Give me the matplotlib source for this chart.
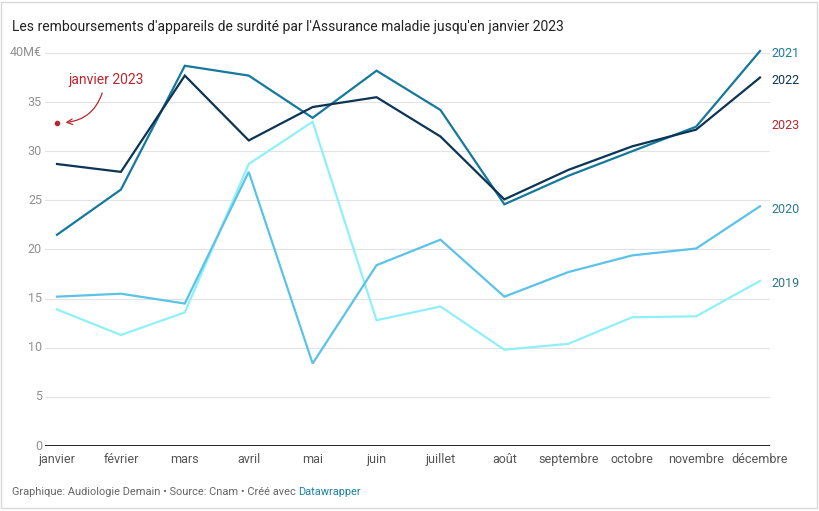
import matplotlib
matplotlib.use("Agg")
import matplotlib.pyplot as plt
from matplotlib.patches import Rectangle

plt.rcParams['font.family'] = ['Roboto', 'DejaVu Sans']

# Data (millions of euros)
months = ["janvier", "février", "mars", "avril", "mai", "juin", "juillet",
          "août", "septembre", "octobre", "novembre", "décembre"]
y2019 = [13.9, 11.3, 13.6, 28.7, 33.0, 12.8, 14.2, 9.8, 10.4, 13.1, 13.2, 16.8]
y2020 = [15.2, 15.5, 14.5, 27.9, 8.4, 18.4, 21.0, 15.2, 17.7, 19.4, 20.1, 24.4]
y2021 = [21.5, 26.1, 38.7, 37.7, 33.4, 38.2, 34.2, 24.6, 27.5, 30.0, 32.5, 40.2]
y2022 = [28.7, 27.9, 37.7, 31.1, 34.5, 35.5, 31.5, 25.1, 28.1, 30.5, 32.2, 37.5]
y2023 = [32.9]
yticks = [0, 5, 10, 15, 20, 25, 30, 35, 40]

W, H = 820, 511
fig = plt.figure(figsize=(W / 100, H / 100), dpi=100)
fig.patch.set_facecolor("white")

# axes placement in pixels
left_px, right_px = 45, 770
top_px, bottom_px = 48, 446
ax = fig.add_axes([left_px / W, 1 - bottom_px / H,
                   (right_px - left_px) / W, (bottom_px - top_px) / H])
step = (760 - 57) / 11
ax.set_xlim(-(57 - left_px) / step, 11 + (right_px - 760) / step)
ax.set_ylim(0, 40 + (53 - top_px) / 9.825)

for s in ax.spines.values():
    s.set_visible(False)
ax.set_xticks([])
ax.set_yticks([])

for t in yticks[1:]:
    ax.axhline(t, color="#e3e3e3", lw=0.8, zorder=0)
ax.axhline(0, color="#222222", lw=1.4, zorder=1)

x = list(range(len(months)))
series = [
    (y2019, "#8ff0f7"),
    (y2020, "#5bc2e8"),
    (y2021, "#15799c"),
    (y2022, "#0c3553"),
]
for vals, col in series:
    ax.plot(x, vals, color=col, lw=1.6, solid_joinstyle="miter", zorder=3)

ax.plot([0], y2023, "o", color="#b8282e", ms=3, zorder=4)

# line labels on the right
label_y = {"2021": 40.2, "2022": 37.5, "2023": 32.9, "2020": 24.4, "2019": 16.8}
label_col = {"2021": "#1c7a9c", "2022": "#0f3450", "2023": "#b8282e",
             "2020": "#2b7a95", "2019": "#2f7487"}
for lab in ["2021", "2022", "2023", "2020", "2019"]:
    ax.text(11.18, label_y[lab] - 0.3, lab, color=label_col[lab], fontsize=9,
            va="center", ha="left", clip_on=False)

# y tick labels
for t in yticks:
    txt = "40M€" if t == 40 else str(t)
    fig.text(42 / W, 1 - (446 - t * 9.825) / H, txt, color="#909090",
             fontsize=9, ha="right", va="center")

# x tick labels
for i, m in enumerate(months):
    ax.text(i, -0.7, m, color="#555555", fontsize=9, ha="center", va="top",
            clip_on=False)

# annotation for janvier 2023
ax.text(0.18, 37.3, "janvier 2023", color="#b8282e", fontsize=10,
        ha="left", va="center")
ax.annotate("", xy=(0.09, 32.9), xytext=(0.72, 36.2),
            arrowprops=dict(arrowstyle="->", color="#b8282e", lw=0.9,
                            connectionstyle="arc3,rad=-0.35"))

# title
fig.text(12 / W, 1 - 27 / H, "Les remboursements d'appareils de surdité par "
         "l'Assurance maladie jusqu'en janvier 2023", fontsize=10,
         color="#222222", ha="left", va="center")

# footer
f1 = fig.text(12 / W, 1 - 492 / H,
              "Graphique: Audiologie Demain • Source: Cnam • Créé avec ",
              fontsize=7.9, color="#666666", ha="left", va="center")
fig.canvas.draw()
bb = f1.get_window_extent()
fig.text(bb.x1 / W, 1 - 492 / H, "Datawrapper", fontsize=7.9,
         color="#1d81a2", ha="left", va="center")

# frame
fig.patches.append(Rectangle((1 / W, 3 / H), 816 / W, 506 / H,
                             transform=fig.transFigure, fill=False,
                             edgecolor="#d9d9d9", lw=1))

fig.savefig("out.png", dpi=100)
